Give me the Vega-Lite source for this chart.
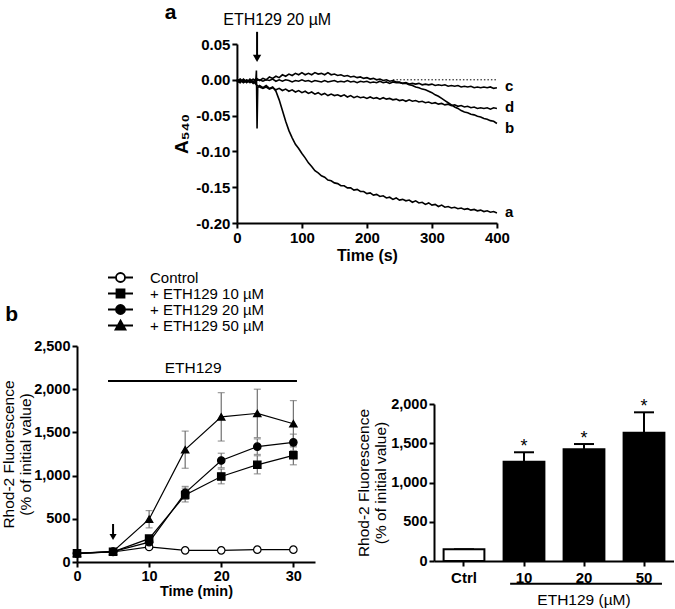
{
"$schema": "https://vega.github.io/schema/vega-lite/v6.json",
"padding": {"left": 1, "top": 2, "right": 0, "bottom": 0},
"center": true,
"spacing": 41,
"config": {
  "view": {"stroke": null},
  "font": "Liberation Sans",
  "axis": {"domainColor": "black", "domainWidth": 2, "tickColor": "black", "tickWidth": 2, "tickSize": 5, "labelColor": "black", "titleColor": "black", "labelFont": "Liberation Sans", "titleFont": "Liberation Sans", "grid": false, "labelFontWeight": "bold", "labelPadding": 2, "labelFlush": false, "labelOverlap": false},
  "text": {"font": "Liberation Sans", "color": "black"},
  "title": {"font": "Liberation Sans", "color": "black"}
},
"datasets": {
  "traces": [
{"s":"a","t":0,"v":-0.002},{"s":"a","t":5,"v":-0.004},{"s":"a","t":10,"v":0.001},{"s":"a","t":15,"v":-0.003},{"s":"a","t":20,"v":-0.001},{"s":"a","t":25,"v":-0.005},{"s":"a","t":29,"v":-0.002},{"s":"a","t":30,"v":0.013},{"s":"a","t":31,"v":-0.068},{"s":"a","t":32,"v":-0.011},{"s":"a","t":35,"v":-0.008},{"s":"a","t":40,"v":-0.011},{"s":"a","t":45,"v":-0.008},{"s":"a","t":50,"v":-0.012},{"s":"a","t":55,"v":-0.010},{"s":"a","t":60,"v":-0.016},{"s":"a","t":65,"v":-0.028},{"s":"a","t":70,"v":-0.043},{"s":"a","t":75,"v":-0.058},{"s":"a","t":80,"v":-0.071},{"s":"a","t":85,"v":-0.081},{"s":"a","t":90,"v":-0.090},{"s":"a","t":95,"v":-0.096},{"s":"a","t":100,"v":-0.103},{"s":"a","t":105,"v":-0.109},{"s":"a","t":110,"v":-0.116},{"s":"a","t":115,"v":-0.121},{"s":"a","t":120,"v":-0.127},{"s":"a","t":125,"v":-0.130},{"s":"a","t":130,"v":-0.134},{"s":"a","t":135,"v":-0.136},{"s":"a","t":140,"v":-0.140},{"s":"a","t":145,"v":-0.141},{"s":"a","t":150,"v":-0.144},{"s":"a","t":155,"v":-0.145},{"s":"a","t":160,"v":-0.148},{"s":"a","t":165,"v":-0.148},{"s":"a","t":170,"v":-0.151},{"s":"a","t":175,"v":-0.151},{"s":"a","t":180,"v":-0.154},{"s":"a","t":185,"v":-0.153},{"s":"a","t":190,"v":-0.156},{"s":"a","t":195,"v":-0.156},{"s":"a","t":200,"v":-0.159},{"s":"a","t":205,"v":-0.158},{"s":"a","t":210,"v":-0.161},{"s":"a","t":215,"v":-0.160},{"s":"a","t":220,"v":-0.163},{"s":"a","t":225,"v":-0.162},{"s":"a","t":230,"v":-0.165},{"s":"a","t":235,"v":-0.164},{"s":"a","t":240,"v":-0.167},{"s":"a","t":245,"v":-0.165},{"s":"a","t":250,"v":-0.168},{"s":"a","t":255,"v":-0.167},{"s":"a","t":260,"v":-0.169},{"s":"a","t":265,"v":-0.168},{"s":"a","t":270,"v":-0.171},{"s":"a","t":275,"v":-0.169},{"s":"a","t":280,"v":-0.172},{"s":"a","t":285,"v":-0.171},{"s":"a","t":290,"v":-0.174},{"s":"a","t":295,"v":-0.172},{"s":"a","t":300,"v":-0.175},{"s":"a","t":305,"v":-0.174},{"s":"a","t":310,"v":-0.177},{"s":"a","t":315,"v":-0.175},{"s":"a","t":320,"v":-0.178},{"s":"a","t":325,"v":-0.177},{"s":"a","t":330,"v":-0.179},{"s":"a","t":335,"v":-0.178},{"s":"a","t":340,"v":-0.180},{"s":"a","t":345,"v":-0.179},{"s":"a","t":350,"v":-0.181},{"s":"a","t":355,"v":-0.180},{"s":"a","t":360,"v":-0.182},{"s":"a","t":365,"v":-0.181},{"s":"a","t":370,"v":-0.183},{"s":"a","t":375,"v":-0.182},{"s":"a","t":380,"v":-0.184},{"s":"a","t":385,"v":-0.183},{"s":"a","t":390,"v":-0.185},{"s":"a","t":395,"v":-0.184},{"s":"a","t":400,"v":-0.186},
{"s":"b","t":0,"v":0.001},{"s":"b","t":5,"v":-0.003},{"s":"b","t":10,"v":0.000},{"s":"b","t":15,"v":-0.004},{"s":"b","t":20,"v":0.001},{"s":"b","t":25,"v":-0.003},{"s":"b","t":30,"v":0.002},{"s":"b","t":35,"v":-0.001},{"s":"b","t":40,"v":0.002},{"s":"b","t":45,"v":0.000},{"s":"b","t":50,"v":0.004},{"s":"b","t":55,"v":0.002},{"s":"b","t":60,"v":0.005},{"s":"b","t":65,"v":0.003},{"s":"b","t":70,"v":0.007},{"s":"b","t":75,"v":0.005},{"s":"b","t":80,"v":0.008},{"s":"b","t":85,"v":0.006},{"s":"b","t":90,"v":0.009},{"s":"b","t":95,"v":0.007},{"s":"b","t":100,"v":0.010},{"s":"b","t":105,"v":0.007},{"s":"b","t":110,"v":0.009},{"s":"b","t":115,"v":0.007},{"s":"b","t":120,"v":0.010},{"s":"b","t":125,"v":0.008},{"s":"b","t":130,"v":0.009},{"s":"b","t":135,"v":0.007},{"s":"b","t":140,"v":0.010},{"s":"b","t":145,"v":0.007},{"s":"b","t":150,"v":0.008},{"s":"b","t":155,"v":0.006},{"s":"b","t":160,"v":0.007},{"s":"b","t":165,"v":0.005},{"s":"b","t":170,"v":0.006},{"s":"b","t":175,"v":0.004},{"s":"b","t":180,"v":0.005},{"s":"b","t":185,"v":0.003},{"s":"b","t":190,"v":0.004},{"s":"b","t":195,"v":0.002},{"s":"b","t":200,"v":0.003},{"s":"b","t":205,"v":0.001},{"s":"b","t":210,"v":0.002},{"s":"b","t":215,"v":0.000},{"s":"b","t":220,"v":0.001},{"s":"b","t":225,"v":-0.001},{"s":"b","t":230,"v":0.000},{"s":"b","t":235,"v":-0.002},{"s":"b","t":240,"v":-0.001},{"s":"b","t":245,"v":-0.003},{"s":"b","t":250,"v":-0.003},{"s":"b","t":255,"v":-0.005},{"s":"b","t":260,"v":-0.005},{"s":"b","t":265,"v":-0.007},{"s":"b","t":270,"v":-0.008},{"s":"b","t":275,"v":-0.010},{"s":"b","t":280,"v":-0.011},{"s":"b","t":285,"v":-0.013},{"s":"b","t":290,"v":-0.014},{"s":"b","t":295,"v":-0.016},{"s":"b","t":300,"v":-0.018},{"s":"b","t":305,"v":-0.021},{"s":"b","t":310,"v":-0.023},{"s":"b","t":315,"v":-0.026},{"s":"b","t":320,"v":-0.029},{"s":"b","t":325,"v":-0.032},{"s":"b","t":330,"v":-0.035},{"s":"b","t":335,"v":-0.038},{"s":"b","t":340,"v":-0.040},{"s":"b","t":345,"v":-0.043},{"s":"b","t":350,"v":-0.045},{"s":"b","t":355,"v":-0.046},{"s":"b","t":360,"v":-0.048},{"s":"b","t":365,"v":-0.049},{"s":"b","t":370,"v":-0.051},{"s":"b","t":375,"v":-0.052},{"s":"b","t":380,"v":-0.054},{"s":"b","t":385,"v":-0.055},{"s":"b","t":390,"v":-0.057},{"s":"b","t":395,"v":-0.058},{"s":"b","t":400,"v":-0.061},
{"s":"c","t":0,"v":-0.002},{"s":"c","t":5,"v":0.001},{"s":"c","t":10,"v":-0.003},{"s":"c","t":15,"v":0.000},{"s":"c","t":20,"v":-0.002},{"s":"c","t":25,"v":0.001},{"s":"c","t":30,"v":-0.001},{"s":"c","t":35,"v":0.000},{"s":"c","t":40,"v":-0.002},{"s":"c","t":45,"v":0.000},{"s":"c","t":50,"v":-0.001},{"s":"c","t":55,"v":0.001},{"s":"c","t":60,"v":-0.002},{"s":"c","t":65,"v":0.000},{"s":"c","t":70,"v":-0.002},{"s":"c","t":75,"v":0.000},{"s":"c","t":80,"v":-0.001},{"s":"c","t":85,"v":-0.003},{"s":"c","t":90,"v":-0.001},{"s":"c","t":95,"v":-0.002},{"s":"c","t":100,"v":0.000},{"s":"c","t":105,"v":-0.002},{"s":"c","t":110,"v":-0.001},{"s":"c","t":115,"v":-0.003},{"s":"c","t":120,"v":-0.001},{"s":"c","t":125,"v":-0.002},{"s":"c","t":130,"v":-0.003},{"s":"c","t":135,"v":-0.001},{"s":"c","t":140,"v":-0.003},{"s":"c","t":145,"v":-0.002},{"s":"c","t":150,"v":-0.001},{"s":"c","t":155,"v":-0.003},{"s":"c","t":160,"v":-0.002},{"s":"c","t":165,"v":-0.003},{"s":"c","t":170,"v":-0.001},{"s":"c","t":175,"v":-0.003},{"s":"c","t":180,"v":-0.002},{"s":"c","t":185,"v":-0.004},{"s":"c","t":190,"v":-0.002},{"s":"c","t":195,"v":-0.003},{"s":"c","t":200,"v":-0.002},{"s":"c","t":205,"v":-0.004},{"s":"c","t":210,"v":-0.003},{"s":"c","t":215,"v":-0.004},{"s":"c","t":220,"v":-0.002},{"s":"c","t":225,"v":-0.004},{"s":"c","t":230,"v":-0.003},{"s":"c","t":235,"v":-0.005},{"s":"c","t":240,"v":-0.003},{"s":"c","t":245,"v":-0.004},{"s":"c","t":250,"v":-0.004},{"s":"c","t":255,"v":-0.005},{"s":"c","t":260,"v":-0.004},{"s":"c","t":265,"v":-0.006},{"s":"c","t":270,"v":-0.005},{"s":"c","t":275,"v":-0.006},{"s":"c","t":280,"v":-0.005},{"s":"c","t":285,"v":-0.007},{"s":"c","t":290,"v":-0.006},{"s":"c","t":295,"v":-0.007},{"s":"c","t":300,"v":-0.006},{"s":"c","t":305,"v":-0.008},{"s":"c","t":310,"v":-0.007},{"s":"c","t":315,"v":-0.008},{"s":"c","t":320,"v":-0.007},{"s":"c","t":325,"v":-0.009},{"s":"c","t":330,"v":-0.008},{"s":"c","t":335,"v":-0.009},{"s":"c","t":340,"v":-0.008},{"s":"c","t":345,"v":-0.010},{"s":"c","t":350,"v":-0.009},{"s":"c","t":355,"v":-0.010},{"s":"c","t":360,"v":-0.009},{"s":"c","t":365,"v":-0.011},{"s":"c","t":370,"v":-0.010},{"s":"c","t":375,"v":-0.011},{"s":"c","t":380,"v":-0.010},{"s":"c","t":385,"v":-0.011},{"s":"c","t":390,"v":-0.010},{"s":"c","t":395,"v":-0.012},{"s":"c","t":400,"v":-0.011},
{"s":"d","t":0,"v":-0.003},{"s":"d","t":5,"v":0.000},{"s":"d","t":10,"v":-0.004},{"s":"d","t":15,"v":-0.001},{"s":"d","t":20,"v":-0.004},{"s":"d","t":25,"v":-0.002},{"s":"d","t":30,"v":-0.007},{"s":"d","t":35,"v":-0.010},{"s":"d","t":40,"v":-0.012},{"s":"d","t":45,"v":-0.010},{"s":"d","t":50,"v":-0.013},{"s":"d","t":55,"v":-0.011},{"s":"d","t":60,"v":-0.014},{"s":"d","t":65,"v":-0.012},{"s":"d","t":70,"v":-0.015},{"s":"d","t":75,"v":-0.013},{"s":"d","t":80,"v":-0.016},{"s":"d","t":85,"v":-0.014},{"s":"d","t":90,"v":-0.017},{"s":"d","t":95,"v":-0.015},{"s":"d","t":100,"v":-0.018},{"s":"d","t":105,"v":-0.016},{"s":"d","t":110,"v":-0.019},{"s":"d","t":115,"v":-0.017},{"s":"d","t":120,"v":-0.020},{"s":"d","t":125,"v":-0.018},{"s":"d","t":130,"v":-0.021},{"s":"d","t":135,"v":-0.019},{"s":"d","t":140,"v":-0.022},{"s":"d","t":145,"v":-0.020},{"s":"d","t":150,"v":-0.022},{"s":"d","t":155,"v":-0.021},{"s":"d","t":160,"v":-0.023},{"s":"d","t":165,"v":-0.021},{"s":"d","t":170,"v":-0.024},{"s":"d","t":175,"v":-0.022},{"s":"d","t":180,"v":-0.025},{"s":"d","t":185,"v":-0.023},{"s":"d","t":190,"v":-0.025},{"s":"d","t":195,"v":-0.024},{"s":"d","t":200,"v":-0.026},{"s":"d","t":205,"v":-0.024},{"s":"d","t":210,"v":-0.026},{"s":"d","t":215,"v":-0.025},{"s":"d","t":220,"v":-0.027},{"s":"d","t":225,"v":-0.025},{"s":"d","t":230,"v":-0.027},{"s":"d","t":235,"v":-0.026},{"s":"d","t":240,"v":-0.028},{"s":"d","t":245,"v":-0.027},{"s":"d","t":250,"v":-0.029},{"s":"d","t":255,"v":-0.028},{"s":"d","t":260,"v":-0.030},{"s":"d","t":265,"v":-0.028},{"s":"d","t":270,"v":-0.030},{"s":"d","t":275,"v":-0.029},{"s":"d","t":280,"v":-0.031},{"s":"d","t":285,"v":-0.030},{"s":"d","t":290,"v":-0.032},{"s":"d","t":295,"v":-0.031},{"s":"d","t":300,"v":-0.033},{"s":"d","t":305,"v":-0.032},{"s":"d","t":310,"v":-0.034},{"s":"d","t":315,"v":-0.033},{"s":"d","t":320,"v":-0.035},{"s":"d","t":325,"v":-0.034},{"s":"d","t":330,"v":-0.036},{"s":"d","t":335,"v":-0.035},{"s":"d","t":340,"v":-0.037},{"s":"d","t":345,"v":-0.036},{"s":"d","t":350,"v":-0.038},{"s":"d","t":355,"v":-0.037},{"s":"d","t":360,"v":-0.039},{"s":"d","t":365,"v":-0.038},{"s":"d","t":370,"v":-0.040},{"s":"d","t":375,"v":-0.039},{"s":"d","t":380,"v":-0.040},{"s":"d","t":385,"v":-0.039},{"s":"d","t":390,"v":-0.041},{"s":"d","t":395,"v":-0.039},{"s":"d","t":400,"v":-0.040}
  ],
  "tlabels": [
    {"s":"c","t":400,"v":-0.009},{"s":"d","t":400,"v":-0.038},{"s":"b","t":400,"v":-0.067},{"s":"a","t":400,"v":-0.184}
  ],
  "azero": [
    {"t":240,"t2":400,"v":0}
  ],
  "aarrow": [
    {"t":31,"v":0.067,"v2":0.033,"h":0.03,"tc":62,"vc":0.083,"label":"ETH129 20 µM"}
  ],
  "rhod": [
    {"s":"Control","t":0,"v":100,"e":0},{"s":"Control","t":5,"v":116,"e":5},{"s":"Control","t":10,"v":174,"e":20},{"s":"Control","t":15,"v":135,"e":8},{"s":"Control","t":20,"v":135,"e":8},{"s":"Control","t":25,"v":143,"e":8},{"s":"Control","t":30,"v":143,"e":8},
    {"s":"+ ETH129 10 µM","t":0,"v":100,"e":0},{"s":"+ ETH129 10 µM","t":5,"v":118,"e":5},{"s":"+ ETH129 10 µM","t":10,"v":270,"e":30},{"s":"+ ETH129 10 µM","t":15,"v":775,"e":80},{"s":"+ ETH129 10 µM","t":20,"v":990,"e":85},{"s":"+ ETH129 10 µM","t":25,"v":1125,"e":105},{"s":"+ ETH129 10 µM","t":30,"v":1235,"e":110},
    {"s":"+ ETH129 20 µM","t":0,"v":100,"e":0},{"s":"+ ETH129 20 µM","t":5,"v":120,"e":5},{"s":"+ ETH129 20 µM","t":10,"v":230,"e":30},{"s":"+ ETH129 20 µM","t":15,"v":800,"e":75},{"s":"+ ETH129 20 µM","t":20,"v":1175,"e":84},{"s":"+ ETH129 20 µM","t":25,"v":1335,"e":90},{"s":"+ ETH129 20 µM","t":30,"v":1385,"e":95},
    {"s":"+ ETH129 50 µM","t":0,"v":100,"e":0},{"s":"+ ETH129 50 µM","t":5,"v":122,"e":5},{"s":"+ ETH129 50 µM","t":10,"v":495,"e":100},{"s":"+ ETH129 50 µM","t":15,"v":1300,"e":215},{"s":"+ ETH129 50 µM","t":20,"v":1680,"e":280},{"s":"+ ETH129 50 µM","t":25,"v":1720,"e":280},{"s":"+ ETH129 50 µM","t":30,"v":1600,"e":268}
  ],
  "bnotes": [
    {"t":4.3,"t2":30.5,"v":2095,"tc":16.1,"vc":2245,"label":"ETH129"}
  ],
  "barrow": [
    {"t":5,"v":440,"v2":320,"h":290}
  ],
  "bars": [
    {"g":"Ctrl","v":149,"hi":149,"star":""},
    {"g":"10","v":1265,"hi":1385,"star":"*"},
    {"g":"20","v":1423,"hi":1490,"star":"*"},
    {"g":"50","v":1634,"hi":1894,"star":"*"}
  ],
  "cspan": [
    {"g":"10","g2":"50","v":-290,"tg":"20","tv":-497,"label":"ETH129 (µM)"}
  ]
},
"vconcat": [
  {
    "width": 260, "height": 179,
    "title": {"text": "a", "anchor": "start", "frame": "bounds", "fontSize": 21, "fontWeight": "bold", "offset": -8, "dx": -8, "dy": 3},
    "encoding": {
      "x": {"field": "t", "type": "quantitative", "scale": {"domain": [0, 400], "nice": false}, "axis": {"values": [0, 100, 200, 300, 400], "title": "Time (s)", "titleFontSize": 16, "titleFontWeight": "bold", "labelFontSize": 15, "titlePadding": 2}},
      "y": {"field": "v", "type": "quantitative", "scale": {"domain": [-0.2, 0.05], "nice": false, "zero": false}, "axis": {"values": [-0.2, -0.15, -0.1, -0.05, 0, 0.05], "labelExpr": "(datum.value < -0.0001 ? '-' : '') + format(abs(datum.value), '.2f')", "title": "A₅₄₀", "titleFontSize": 19, "titleFontWeight": "bold", "labelFontSize": 15, "titlePadding": 4}}
    },
    "layer": [
      {"data": {"name": "azero"}, "mark": {"type": "rule", "strokeDash": [1.5, 2], "strokeWidth": 1, "color": "black"}, "encoding": {"x2": {"field": "t2"}}},
      {"data": {"name": "traces"}, "mark": {"type": "line", "color": "black", "strokeWidth": 1.6}, "encoding": {"detail": {"field": "s"}}},
      {"data": {"name": "tlabels"}, "mark": {"type": "text", "align": "left", "baseline": "middle", "dx": 8, "fontSize": 15, "fontWeight": "bold"}, "encoding": {"text": {"field": "s"}}},
      {"data": {"name": "aarrow"}, "mark": {"type": "rule", "strokeWidth": 2, "color": "black"}, "encoding": {"y2": {"field": "v2"}}},
      {"data": {"name": "aarrow"}, "mark": {"type": "point", "shape": "triangle-down", "filled": true, "size": 70, "color": "black", "opacity": 1}, "encoding": {"y": {"field": "h", "type": "quantitative"}}},
      {"data": {"name": "aarrow"}, "mark": {"type": "text", "fontSize": 16, "baseline": "middle", "align": "center"}, "encoding": {"x": {"field": "tc", "type": "quantitative"}, "y": {"field": "vc", "type": "quantitative"}, "text": {"field": "label"}}}
    ]
  },
  {
    "hconcat": [
      {
        "width": 238, "height": 216,
        "title": {"text": "b", "anchor": "start", "frame": "bounds", "fontSize": 21, "fontWeight": "bold", "offset": 13, "dx": 4},
        "encoding": {
          "x": {"field": "t", "type": "quantitative", "scale": {"domain": [0, 33], "nice": false}, "axis": {"values": [0, 10, 20, 30], "title": "Time (min)", "titleFontSize": 14.5, "titleFontWeight": "bold", "labelFontSize": 14.5, "titlePadding": 2}},
          "y": {"field": "v", "type": "quantitative", "scale": {"domain": [0, 2500], "nice": false}, "axis": {"values": [0, 500, 1000, 1500, 2000, 2500], "format": ",.0f", "title": ["Rhod-2 Fluorescence", "(% of initial value)"], "titleFontSize": 15.5, "titleFontWeight": "normal", "labelFontSize": 14.5, "titlePadding": 0}}
        },
        "layer": [
          {"data": {"name": "rhod"}, "mark": {"type": "errorbar", "ticks": true, "size": 7, "thickness": 1.2, "color": "#707070"}, "encoding": {"yError": {"field": "e"}}},
          {"data": {"name": "rhod"}, "mark": {"type": "line", "strokeWidth": 1.2},
           "encoding": {
             "color": {"field": "s", "type": "nominal", "scale": {"domain": ["Control", "+ ETH129 10 µM", "+ ETH129 20 µM", "+ ETH129 50 µM"], "range": ["black", "black", "black", "black"]},
               "legend": {"orient": "none", "legendX": 36, "legendY": 226, "title": null, "padding": 0, "symbolSize": 100, "labelFontSize": 15, "labelFont": "Liberation Sans", "labelColor": "black", "labelOffset": 22, "rowPadding": -2,
                 "encode": {"symbols": {"update": {
                   "shape": {"signal": "datum.value === 'Control' ? 'M-2.5,0H-0.9M0.9,0H2.5M0.9,0A0.9,0.9,0,1,1,-0.9,0A0.9,0.9,0,1,1,0.9,0Z' : indexof(datum.value, '10') >= 0 ? 'M-2.5,0H2.5M-0.8,-0.8H0.8V0.8H-0.8Z' : indexof(datum.value, '20') >= 0 ? 'M-2.5,0H2.5M0.9,0A0.9,0.9,0,1,1,-0.9,0A0.9,0.9,0,1,1,0.9,0Z' : 'M-2.5,0H2.5M0,-1L1,0.8H-1Z'"},
                   "fill": {"signal": "datum.value === 'Control' ? 'white' : 'black'"},
                   "stroke": {"value": "black"},
                   "strokeWidth": {"value": 1.8},
                   "size": {"value": 100},
                   "opacity": {"value": 1}
                 }}}}},
             "detail": {"field": "s"}
           }},
          {"data": {"name": "rhod"}, "mark": {"type": "point", "filled": true, "size": 55, "stroke": "black", "strokeWidth": 1.2, "opacity": 1},
           "encoding": {
             "shape": {"condition": [{"test": "datum.s === '+ ETH129 10 µM'", "value": "square"}, {"test": "datum.s === '+ ETH129 50 µM'", "value": "triangle-up"}], "value": "circle"},
             "fill": {"condition": {"test": "datum.s === 'Control'", "value": "white"}, "value": "black"}
           }},
          {"data": {"name": "bnotes"}, "mark": {"type": "rule", "strokeWidth": 2, "color": "black"}, "encoding": {"x2": {"field": "t2"}}},
          {"data": {"name": "bnotes"}, "mark": {"type": "text", "fontSize": 15.5, "baseline": "middle", "align": "center"}, "encoding": {"x": {"field": "tc", "type": "quantitative"}, "y": {"field": "vc", "type": "quantitative"}, "text": {"field": "label"}}},
          {"data": {"name": "barrow"}, "mark": {"type": "rule", "strokeWidth": 2, "color": "black"}, "encoding": {"y2": {"field": "v2"}}},
          {"data": {"name": "barrow"}, "mark": {"type": "point", "shape": "triangle-down", "filled": true, "size": 50, "color": "black", "opacity": 1}, "encoding": {"y": {"field": "h", "type": "quantitative"}}}
        ]
      },
      {
        "spacing": 0,
        "vconcat": [
          {"width": 240, "height": 50, "data": {"values": [{"n": 0}]}, "mark": {"type": "point", "opacity": 0}},
          {
            "width": 240, "height": 157,
            "data": {"name": "bars"},
            "encoding": {
              "x": {"field": "g", "type": "nominal", "sort": null, "scale": {"domain": ["Ctrl", "10", "20", "50"], "paddingInner": 0.32, "paddingOuter": 0.16}, "axis": {"title": null, "labelAngle": 0, "labelFontSize": 15, "labelPadding": 4}},
              "y": {"field": "v", "type": "quantitative", "scale": {"domain": [0, 2000], "nice": false}, "axis": {"values": [0, 500, 1000, 1500, 2000], "format": ",.0f", "title": ["Rhod-2 Fluorescence", "(% of initial value)"], "titleFontSize": 15.5, "titleFontWeight": "normal", "labelFontSize": 14.5, "titlePadding": 2}}
            },
            "layer": [
              {"mark": {"type": "rule", "strokeWidth": 2, "color": "black"}, "encoding": {"y2": {"field": "hi"}}},
              {"mark": {"type": "tick", "orient": "horizontal", "size": 20, "thickness": 2, "color": "black", "opacity": 1}, "encoding": {"y": {"field": "hi", "type": "quantitative"}}},
              {"mark": {"type": "bar", "stroke": "black", "strokeWidth": 2}, "encoding": {"fill": {"condition": {"test": "datum.g === 'Ctrl'", "value": "white"}, "value": "black"}}},
              {"mark": {"type": "text", "fontSize": 18, "baseline": "bottom", "dy": 4}, "encoding": {"y": {"field": "hi", "type": "quantitative"}, "text": {"field": "star"}}},
              {"data": {"name": "cspan"}, "mark": {"type": "rule", "strokeWidth": 2, "color": "black"}, "encoding": {"x": {"field": "g", "type": "nominal", "bandPosition": 0.16}, "x2": {"field": "g2", "bandPosition": 0.94}}},
              {"data": {"name": "cspan"}, "mark": {"type": "text", "fontSize": 15.5, "baseline": "middle", "align": "center"}, "encoding": {"x": {"field": "tg", "type": "nominal"}, "y": {"field": "tv", "type": "quantitative"}, "text": {"field": "label"}}}
            ]
          }
        ]
      }
    ],
    "spacing": 41
  }
]
}
